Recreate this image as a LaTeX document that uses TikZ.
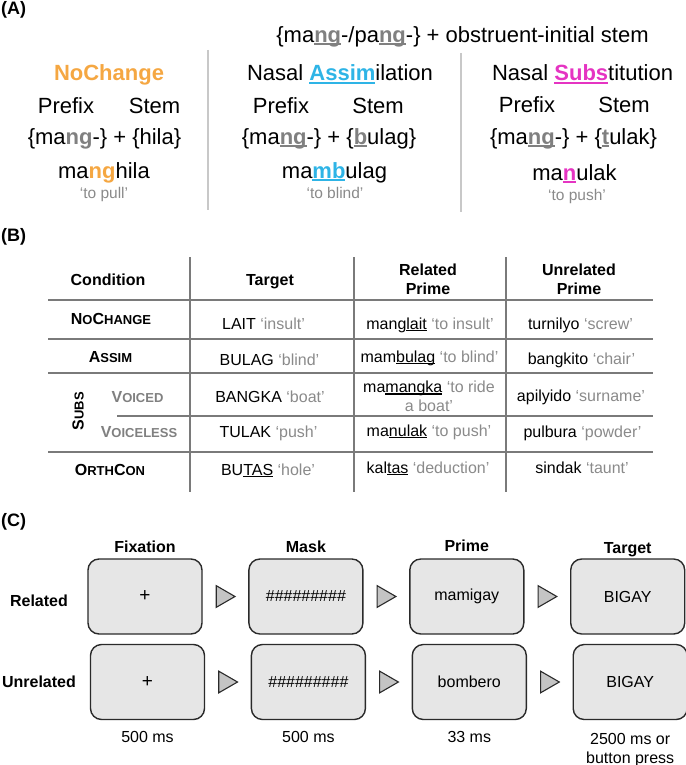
\documentclass[tikz,border=0pt]{standalone}
\usepackage{fontspec}
\setmainfont{Liberation Sans}
\usetikzlibrary{positioning,shapes.geometric}
\definecolor{nochg}{HTML}{F5A742}
\definecolor{assim}{HTML}{2EB4E6}
\definecolor{subs}{HTML}{E534C2}
\definecolor{morph}{HTML}{808080}
\definecolor{gloss}{HTML}{8A8A8A}
\definecolor{rulegray}{HTML}{7A7A7A}
\definecolor{sepgray}{HTML}{C8C8C8}
\definecolor{scrfill}{HTML}{E6E6E6}
\definecolor{scredge}{HTML}{2A2A2A}
\definecolor{trifill}{HTML}{C4C4C4}
\newsavebox\ulbox
\newcommand{\uln}[2][black]{\sbox\ulbox{#2}\rlap{\color{#1}\rule[-0.12em]{\wd\ulbox}{0.08em}}\usebox\ulbox}
\newcommand{\hl}[2]{\textbf{\color{#1}#2}}
\newcommand{\hlu}[2]{\uln[#1]{\hl{#1}{#2}}}
\newcommand{\sm}[1]{{\fontsize{13}{13}\selectfont #1}}
\newcommand{\gl}[1]{{\color{gloss}#1}}
\begin{document}
\begin{tikzpicture}[x=1pt, y=-1pt,
  lab/.style={font=\fontsize{18}{20}\selectfont\bfseries, anchor=base west, inner sep=0},
  big/.style={font=\fontsize{22}{26}\selectfont, anchor=base, inner sep=0},
  glossA/.style={font=\fontsize{15.5}{18}\selectfont, text=gloss, anchor=base, inner sep=0},
  cell/.style={font=\fontsize{16}{19}\selectfont, anchor=base, inner sep=0},
  head/.style={cell, font=\fontsize{16}{19}\selectfont\bfseries},
  tline/.style={rulegray, line width=2pt},
  colsep/.style={sepgray, line width=2.5pt},
  scr/.style={draw=scredge, fill=scrfill, line width=1.4pt, rounded corners=11pt,
    minimum width=114pt, minimum height=75pt, font=\fontsize{16}{19}\selectfont},
  tri/.style={regular polygon, regular polygon sides=3, shape border rotate=-90,
    draw=scredge, fill=trifill, line width=1.1pt, minimum size=25pt, inner sep=0}]
 \useasboundingbox (0,0) rectangle (685,765);
 \node[lab] (labA) at (1,15) {(A)};
 \node[big] (top) at (462.5,42.5) {\{ma\hlu{morph}{ng}-/pa\hlu{morph}{ng}-\} + obstruent-initial stem};
 \draw[colsep] (208,50) -- (208,210);
 \draw[colsep] (461,53) -- (461,212);
 \node[big, font=\fontsize{22}{26}\selectfont\bfseries, text=nochg] (ncT) at (109,81) {NoChange};
 \node[big] (ncP) at (66,113.5) {Prefix};
 \node[big] (ncS) at (154.5,113.5) {Stem};
 \node[big] (ncM) at (104.5,144.5) {\{ma\hl{morph}{ng}-\} + \{hila\}};
 \node[big] (ncW) at (104,178.5) {ma\hl{nochg}{ng}hila};
 \node[glossA] (ncG) at (104,198) {‘to pull’};
 \node[big] (asT) at (340,81) {Nasal \hlu{assim}{Assim}ilation};
 \node[big] (asP) at (281,113.5) {Prefix};
 \node[big] (asS) at (378,113.5) {Stem};
 \node[big] (asM) at (329,144.5) {\{ma\hlu{morph}{ng}-\} + \{\hlu{morph}{b}ulag\}};
 \node[big] (asW) at (334.5,178.5) {ma\hlu{assim}{mb}ulag};
 \node[glossA] (asG) at (335,198) {‘to blind’};
 \node[big] (suT) at (582.5,81) {Nasal \hlu{subs}{Subs}titution};
 \node[big] (suP) at (527,113) {Prefix};
 \node[big] (suS) at (624,113) {Stem};
 \node[big] (suM) at (573.5,144.5) {\{ma\hlu{morph}{ng}-\} + \{\hlu{morph}{t}ulak\}};
 \node[big] (suW) at (574.5,180.5) {ma\hlu{subs}{n}ulak};
 \node[glossA] (suG) at (577,200) {‘to push’};

 \node[lab] (labB) at (1,241) {(B)};
 \foreach \y in {300,339,373,452} \draw[tline] (48,\y) -- (653,\y);
 \draw[tline] (117,416) -- (653,416);
 \foreach \x in {190,354,506} \draw[tline] (\x,257) -- (\x,492);
 \node[head] (hCond) at (108,285.5) {Condition};
 \node[head] (hTarg) at (270,285.5) {Target};
 \node[head, align=center, anchor=north] (hRel) at (428,264) {Related\\Prime};
 \node[head, align=center, anchor=north] (hUnr) at (579,264) {Unrelated\\Prime};
 \node[head] (cNC) at (111,324.5) {N\sm{O}C\sm{HANGE}};
 \node[cell] (tNC) at (263.5,329.5) {LAIT \gl{‘insult’}};
 \node[cell] (rNC) at (430,329.5) {mang\uln{lait} \gl{‘to insult’}};
 \node[cell] (uNC) at (580.5,329.5) {turnilyo \gl{‘screw’}};
 \node[head] (cAS) at (110.5,362.5) {A\sm{SSIM}};
 \node[cell] (tAS) at (269.5,365.5) {BULAG \gl{‘blind’}};
 \node[cell] (rAS) at (429.5,362.5) {mam\uln{bulag} \gl{‘to blind’}};
 \node[cell] (uAS) at (581.5,364.5) {bangkito \gl{‘chair’}};
 \node[head, rotate=90, anchor=center] (cSU) at (78,411) {S\sm{UBS}};
 \node[head, text=morph] (cVD) at (137.5,402.5) {V\sm{OICED}};
 \node[cell] (tVD) at (270,402.5) {BANGKA \gl{‘boat’}};
 \node[cell, align=center, anchor=north] (rVD) at (429,381) {ma\uln{mangka} \gl{‘to ride}\\\gl{a boat’}};
 \node[cell] (uVD) at (581,401.5) {apilyido \gl{‘surname’}};
 \node[head, text=morph] (cVL) at (139,437.5) {V\sm{OICELESS}};
 \node[cell] (tVL) at (268.5,437.5) {TULAK \gl{‘push’}};
 \node[cell] (rVL) at (429,436.5) {ma\uln{nulak} \gl{‘to push’}};
 \node[cell] (uVL) at (582.5,437.5) {pulbura \gl{‘powder’}};
 \node[head] (cOC) at (110,475.5) {O\sm{RTH}C\sm{ON}};
 \node[cell] (tOC) at (268,475.5) {BU\uln{TAS} \gl{‘hole’}};
 \node[cell] (rOC) at (428,473.5) {kal\uln{tas} \gl{‘deduction’}};
 \node[cell] (uOC) at (582,473.5) {sindak \gl{‘taunt’}};

 \node[lab] (labC) at (1,526) {(C)};
 \node[scr, font=\fontsize{19}{20}\selectfont] (fixR) at (145,596.5) {+};
 \node[scr, right=45.5pt of fixR] (maskR) {\#\#\#\#\#\#\#\#\#};
 \node[scr, right=45.5pt of maskR] (primeR) {mamigay};
 \node[scr, right=45.5pt of primeR] (targR) {BIGAY};
 \node[scr, font=\fontsize{19}{20}\selectfont] (fixU) at (147.5,682) {+};
 \node[scr, right=45.5pt of fixU] (maskU) {\#\#\#\#\#\#\#\#\#};
 \node[scr, right=45.5pt of maskU] (primeU) {bombero};
 \node[scr, right=45.5pt of primeU] (targU) {BIGAY};
 \node[tri, right=13pt of fixR] (a1R) {};
 \node[tri, right=13pt of maskR] (a2R) {};
 \node[tri, right=13pt of primeR] (a3R) {};
 \node[tri, right=13pt of fixU] (a1U) {};
 \node[tri, right=13pt of maskU] (a2U) {};
 \node[tri, right=13pt of primeU] (a3U) {};
 \node[head] (hFix) at ([yshift=5.5pt]fixR.north) {Fixation};
 \node[head] (hMask) at ([yshift=5.5pt]maskR.north) {Mask};
 \node[head] (hPrime) at ([yshift=7pt]primeR.north) {Prime};
 \node[head] (hTargC) at ([yshift=5pt]targR.north) {Target};
 \node[head] (rowR) at (39,606.5) {Related};
 \node[head] (rowU) at (39,687.5) {Unrelated};
 \node[cell] (dFix) at ([yshift=-22.5pt]fixU.south) {500 ms};
 \node[cell] (dMask) at ([yshift=-22.5pt]maskU.south) {500 ms};
 \node[cell] (dPrime) at ([yshift=-22.5pt]primeU.south) {33 ms};
 \node[cell, align=center, anchor=north] (dTarg) at ([yshift=-12.5pt]targU.south) {2500 ms or\\button press};
\end{tikzpicture}
\end{document}
